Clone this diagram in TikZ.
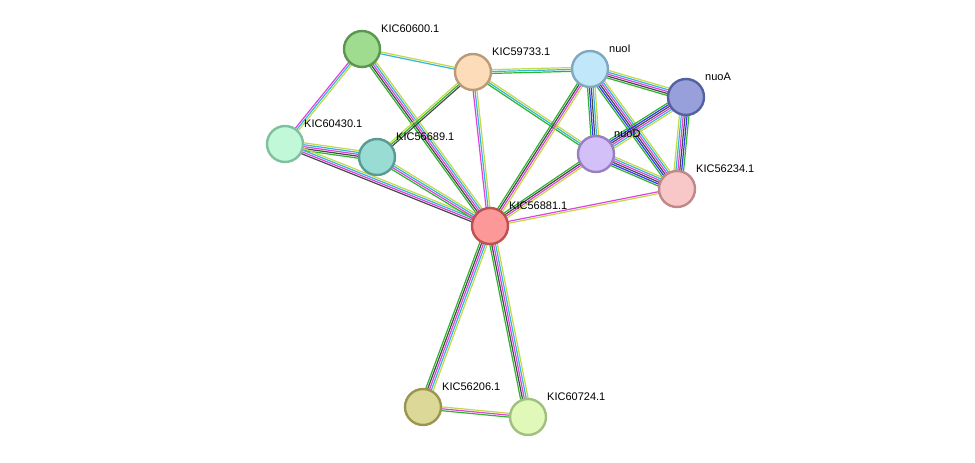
\documentclass[tikz,border=0pt]{standalone}
\usepackage{fontspec}
\setmainfont{Liberation Sans}
\usetikzlibrary{calc, backgrounds}
\definecolor{lgreen}{HTML}{2DB52D}
\definecolor{lblack}{HTML}{484848}
\definecolor{lmag}{HTML}{E040E0}
\definecolor{lcyan}{HTML}{33B5DD}
\definecolor{lyel}{HTML}{C2D844}
\definecolor{lblue}{HTML}{3333FF}
\tikzset{
  %protein node style
  prot/.style={
    circle
    , minimum size=36pt
    , inner sep=0pt
    , line width=2.4pt
  },
  plabel/.style={
    anchor=base west
    , font=\fontsize{11}{13}\selectfont
    , inner sep=1pt
  },
  link/.style={line width=1.2pt},
}
% one line per evidence colour, side by side
\newcommand\stringlink[3]{%
  \foreach \c [count=\i] in {#3}{\xdef\nlinks{\i}}%
  \foreach \c [count=\i] in {#3}{%
    \pgfmathsetmacro\off{(\i-(\nlinks+1)/2)*1.9}%
    \draw[link,\c] ($(#1)!\off pt!90:(#2)$) -- ($(#2)!\off pt!-90:(#1)$);
  }%
}

\begin{document}
\begin{tikzpicture}[x=1pt, y=-1pt]
  \useasboundingbox (0,0) rectangle (975,463);
  % proteins
  \node[prot, fill={rgb,255:red,160;green,220;blue,144}, draw={rgb,255:red,90;green,150;blue,80}] (p60600) at (362,49) {};
  \node[prot, fill={rgb,255:red,253;green,220;blue,186}, draw={rgb,255:red,187;green,154;blue,120}] (p59733) at (473,72) {};
  \node[prot, fill={rgb,255:red,192;green,232;blue,250}, draw={rgb,255:red,128;green,168;blue,192}] (nuoI) at (590,69) {};
  \node[prot, fill={rgb,255:red,152;green,160;blue,220}, draw={rgb,255:red,85;green,96;blue,160}] (nuoA) at (686,97) {};
  \node[prot, fill={rgb,255:red,192;green,248;blue,216}, draw={rgb,255:red,128;green,192;blue,160}] (p60430) at (285,144) {};
  \node[prot, fill={rgb,255:red,152;green,220;blue,212}, draw={rgb,255:red,90;green,154;blue,148}] (p56689) at (377,157) {};
  \node[prot, fill={rgb,255:red,212;green,192;blue,248}, draw={rgb,255:red,152;green,128;blue,192}] (nuoD) at (596,154) {};
  \node[prot, fill={rgb,255:red,248;green,200;blue,200}, draw={rgb,255:red,192;green,136;blue,136}] (p56234) at (677,189) {};
  \node[prot, fill={rgb,255:red,253;green,152;blue,152}, draw={rgb,255:red,192;green,80;blue,80}] (p56881) at (490,226) {};
  \node[prot, fill={rgb,255:red,220;green,216;blue,152}, draw={rgb,255:red,154;green,150;blue,80}] (p56206) at (423,407) {};
  \node[prot, fill={rgb,255:red,224;green,248;blue,184}, draw={rgb,255:red,160;green,192;blue,128}] (p60724) at (528,417) {};
  % labels
  \node[plabel] (l60600) at (380,32) {KIC60600.1};
  \node[plabel] (l59733) at (491,55) {KIC59733.1};
  \node[plabel] (lnuoI) at (608,52) {nuoI};
  \node[plabel] (lnuoA) at (704,80) {nuoA};
  \node[plabel] (l60430) at (303,127) {KIC60430.1};
  \node[plabel] (l56689) at (395,140) {KIC56689.1};
  \node[plabel] (lnuoD) at (613,137) {nuoD};
  \node[plabel] (l56234) at (695,172) {KIC56234.1};
  \node[plabel] (l56881) at (508,209) {KIC56881.1};
  \node[plabel] (l56206) at (441,390) {KIC56206.1};
  \node[plabel] (l60724) at (546,400) {KIC60724.1};
  % links
  \begin{pgfonlayer}{background}
    \stringlink{p60600}{p59733}{lcyan,lyel}
    \stringlink{p60600}{p60430}{lmag,lcyan,lyel}
    \stringlink{p60600}{p56881}{lgreen,lblack,lmag,lcyan,lyel}
    \stringlink{p60430}{p56689}{lgreen,lblack,lmag,lcyan,lyel}
    \stringlink{p60430}{p56881}{lblack,lmag,lcyan,lyel}
    \stringlink{p56689}{p56881}{lgreen,lmag,lcyan,lyel}
    \stringlink{p56689}{p59733}{lblack,lgreen,lyel}
    \stringlink{p59733}{nuoI}{lgreen,lcyan,lyel}
    \stringlink{p59733}{p56881}{lmag,lcyan,lyel}
    \stringlink{p59733}{nuoD}{lgreen,lcyan,lyel}
    \stringlink{nuoI}{nuoA}{lgreen,lblack,lmag,lcyan,lyel}
    \stringlink{nuoI}{nuoD}{lgreen,lblue,lblack,lcyan,lyel}
    \stringlink{nuoI}{p56234}{lgreen,lblue,lblack,lmag,lcyan,lyel}
    \stringlink{nuoI}{p56881}{lgreen,lblack,lmag,lyel}
    \stringlink{nuoA}{nuoD}{lgreen,lblue,lblack,lmag,lcyan,lyel}
    \stringlink{nuoA}{p56234}{lyel,lcyan,lmag,lblack,lblue,lgreen}
    \stringlink{nuoD}{p56234}{lgreen,lblue,lblack,lmag,lcyan,lyel}
    \stringlink{nuoD}{p56881}{lgreen,lblack,lmag,lyel}
    \stringlink{p56234}{p56881}{lmag,lyel}
    \stringlink{p56881}{p56206}{lgreen,lblack,lmag,lcyan,lyel}
    \stringlink{p56881}{p60724}{lgreen,lblack,lmag,lcyan,lyel}
    \stringlink{p56206}{p60724}{lgreen,lmag,lyel}
  \end{pgfonlayer}
\end{tikzpicture}
\end{document}
